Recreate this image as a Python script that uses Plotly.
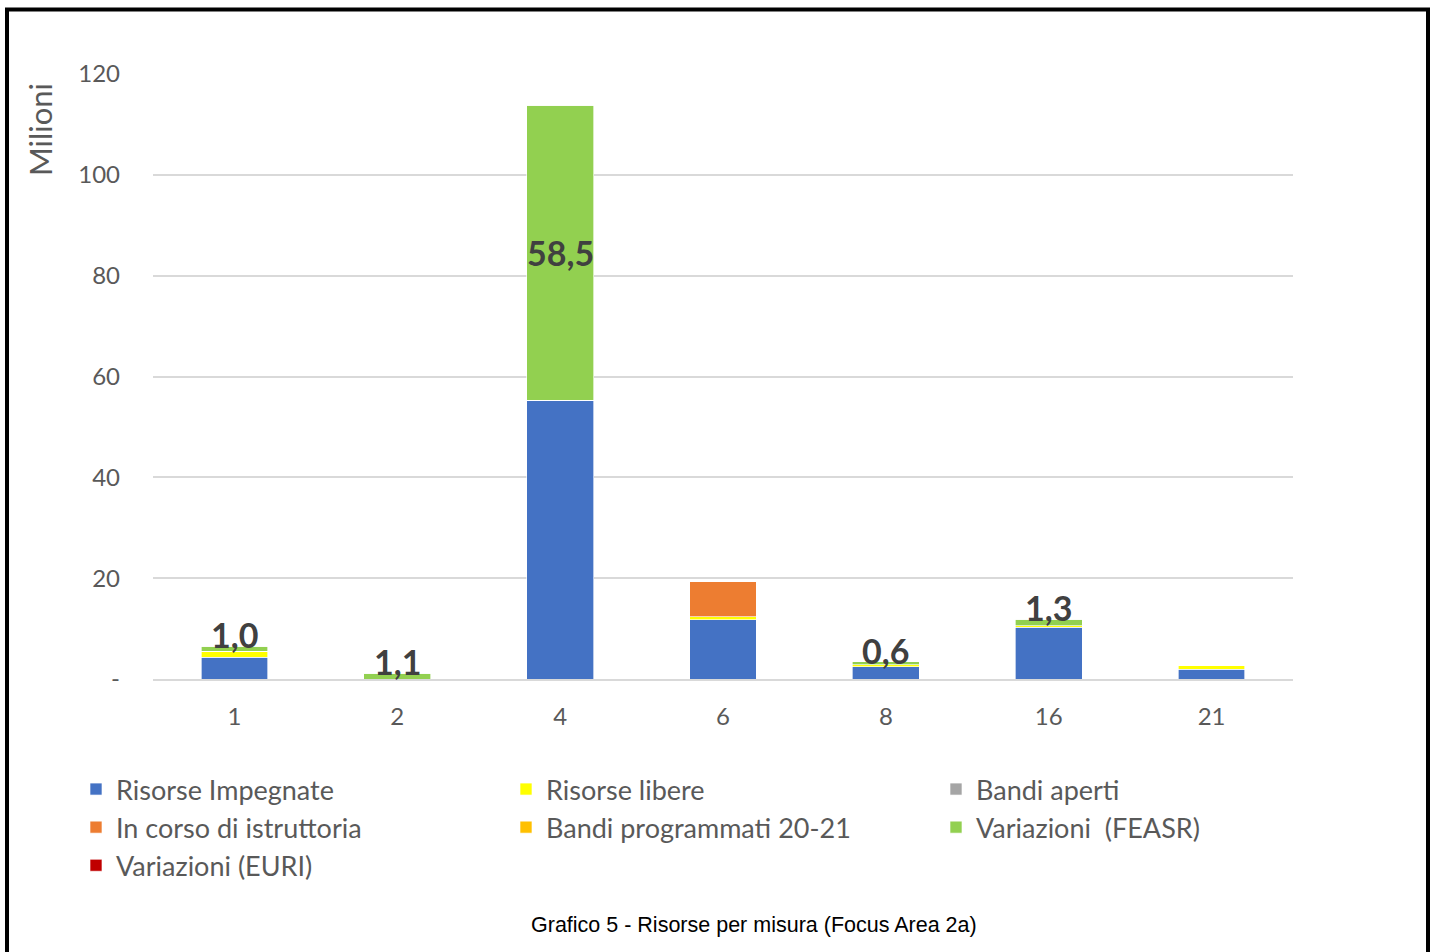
import plotly.graph_objects as go

categories = ["1", "2", "4", "6", "8", "16", "21"]
risorse_impegnate = [4.3, 0.0, 55.3, 11.8, 2.4, 10.25, 1.9]
risorse_libere = [1.2, 0.0, 0.0, 0.5, 0.4, 0.3, 0.85]
bandi_aperti = [0, 0, 0, 0, 0, 0, 0]
in_corso_istruttoria = [0, 0, 0, 7.1, 0, 0, 0]
bandi_programmati = [0, 0, 0, 0, 0, 0, 0]
variazioni_feasr = [1.0, 1.1, 58.5, 0, 0.6, 1.3, 0]
variazioni_euri = [0, 0, 0, 0, 0, 0, 0]

y_tickvals = [0, 20, 40, 60, 80, 100, 120]
y_ticktext = ["-", "20", "40", "60", "80", "100", "120"]

series = [
    ("Risorse Impegnate", risorse_impegnate, "#4472C4"),
    ("Risorse libere", risorse_libere, "#FFFF00"),
    ("Bandi aperti", bandi_aperti, "#A5A5A5"),
    ("In corso di istruttoria", in_corso_istruttoria, "#ED7D31"),
    ("Bandi programmati 20-21", bandi_programmati, "#FFC000"),
    ("Variazioni  (FEASR)", variazioni_feasr, "#92D050"),
    ("Variazioni (EURI)", variazioni_euri, "#C00000"),
]

FONT = "Lato, 'Open Sans', sans-serif"
GREY = "#595959"

fig = go.Figure()
for name, vals, color in series:
    fig.add_trace(go.Bar(
        x=list(range(len(categories))), y=vals, name=name,
        marker=dict(color=color, line=dict(color="rgba(255,255,255,0.8)", width=0.8)),
    ))

# data labels for FEASR variations
for i, cat in enumerate(categories):
    v = variazioni_feasr[i]
    if v <= 0:
        continue
    base = risorse_impegnate[i] + risorse_libere[i] + bandi_aperti[i] + in_corso_istruttoria[i] + bandi_programmati[i]
    txt = f"{v:.1f}".replace(".", ",")
    if v > 10:
        fig.add_annotation(x=i, y=base + v / 2, text=txt, showarrow=False,
                           font=dict(family=FONT, size=34, color="#404040", weight="bold"),
                           yanchor="middle")
    else:
        fig.add_annotation(x=i, y=base + v, text=txt, showarrow=False,
                           font=dict(family=FONT, size=34, color="#404040", weight="bold"),
                           yanchor="bottom", yshift=-11)

# y-axis title
fig.add_annotation(xref="paper", yref="paper", x=(40 - 153) / 1140, y=(679 - 130) / 605,
                   text="Milioni", showarrow=False, textangle=-90,
                   font=dict(family=FONT, size=31, color=GREY),
                   xanchor="center", yanchor="middle")

# caption
fig.add_annotation(xref="paper", yref="paper", x=(754 - 153) / 1140, y=(679 - 925) / 605,
                   text="Grafico 5 - Risorse per misura (Focus Area 2a)", showarrow=False,
                   font=dict(family="'Liberation Sans', Arial, sans-serif", size=21.5, color="#000000"),
                   xanchor="center", yanchor="middle")

# outer black frame
fig.add_shape(type="rect", xref="paper", yref="paper",
              x0=(7 - 153) / 1140, x1=(1428 - 153) / 1140,
              y0=(679 - 970) / 605, y1=(679 - 9.5) / 605,
              line=dict(color="black", width=4), fillcolor="rgba(0,0,0,0)", layer="above")

fig.update_layout(
    barmode="stack",
    bargap=0.59,
    width=1433, height=952,
    margin=dict(l=153, r=140, t=74, b=273, autoexpand=False),
    paper_bgcolor="white", plot_bgcolor="white",
    font=dict(family=FONT, color=GREY),
    legend=dict(
        orientation="h", traceorder="normal",
        xref="paper", yref="paper",
        x=(76 - 153) / 1140, y=(679 - 765) / 605, xanchor="left", yanchor="top",
        entrywidth=385, entrywidthmode="pixels",
        font=dict(family=FONT, size=27, color=GREY),
        itemclick=False,
    ),
    showlegend=True,
)
fig.update_yaxes(range=[0, 120], tickvals=y_tickvals, ticktext=y_ticktext,
                 showgrid=True, gridcolor="#d9d9d9", gridwidth=1.5,
                 zeroline=False, showline=False,
                 tickfont=dict(family=FONT, size=24, color=GREY),
                 ticklabelstandoff=32)
fig.update_xaxes(range=[-0.5, len(categories) - 0.5],
                 tickvals=list(range(len(categories))), ticktext=categories,
                 showline=True, linecolor="#d9d9d9", linewidth=1.5,
                 showgrid=False, zeroline=False,
                 tickfont=dict(family=FONT, size=24, color=GREY),
                 ticklabelstandoff=15)

fig.write_html("out.html", config={"displayModeBar": False},
               post_script="document.body.style.margin='0';document.body.style.overflow='hidden';")
